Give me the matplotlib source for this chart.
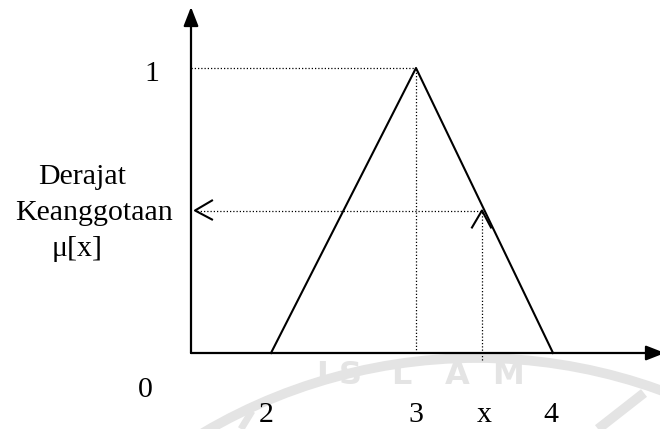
import numpy as np
import matplotlib
matplotlib.use("Agg")
import matplotlib.pyplot as plt
from matplotlib.patches import Arc

# triangular membership function
tri_x = [2.0, 3.0, 3.945]
tri_mu = [0.0, 1.0, 0.0]
x_point = 3.455
mu_point = 0.5
tick_labels = ["2", "3", "x", "4"]
tick_pos = [1.97, 3.0, 3.47, 3.93]
ylabel_lines = ["Derajat", "Keanggotaan", "μ[x]"]

plt.rcParams['font.family'] = ['Liberation Serif', 'DejaVu Serif']

W, H = 660, 429
fig = plt.figure(figsize=(W / 100, H / 100), dpi=100)

# faint watermark, pixel coordinates, behind the chart
wm = fig.add_axes([0, 0, 1, 1], zorder=0)
wm.set_xlim(0, W)
wm.set_ylim(0, H)
wm.axis('off')
wmc = '#e4e4e4'
wm.add_patch(Arc((477, -468), 1078, 1078, theta1=20, theta2=160, color=wmc, lw=7))
wm.plot([598, 644], [0, 36], color=wmc, lw=7, solid_capstyle='butt')
wm.plot([241, 252], [0, 18], color=wmc, lw=5, solid_capstyle='butt')
for ch, cx in zip("ISLAM", [322, 350, 401, 457, 508]):
    wm.text(cx, 53, ch, fontsize=23, color=wmc, ha='center', va='center',
            family='DejaVu Sans', fontweight='bold')

# chart axes: 145 px per x unit, 285 px per membership unit
ax = fig.add_axes([0, 0, 1, 1], zorder=1)
ax.patch.set_alpha(0)
px, py = 145.0, 285.0
x0 = tri_x[0] - 271 / px
ax.set_xlim(x0, x0 + W / px)
ax.set_ylim(-76 / py, 1 + 68 / py)
ax.axis('off')

yaxis_x = x0 + 191 / px
xend = x0 + W / px
ytop = 1 + 61 / py

arrow = dict(arrowstyle="-|>,head_length=1.15,head_width=0.45", color='black',
             lw=1.6, shrinkA=0, shrinkB=0, mutation_scale=10)
ax.annotate("", xy=(yaxis_x, ytop), xytext=(yaxis_x, 0), arrowprops=arrow,
            annotation_clip=False)
ax.annotate("", xy=(xend + 5 / px, 0), xytext=(yaxis_x, 0), arrowprops=arrow,
            annotation_clip=False)

# triangle
ax.plot(tri_x, tri_mu, color='black', lw=1.5)

# dotted guide lines
dot = dict(color='black', lw=0.9, ls=(0, (1, 1.6)))
ax.plot([yaxis_x, tri_x[1]], [1, 1], **dot)
ax.plot([tri_x[1], tri_x[1]], [0, 1], **dot)
ax.plot([yaxis_x + 6 / px, x_point], [mu_point, mu_point], **dot)
ax.plot([x_point, x_point], [-7 / py, mu_point], **dot)

# open arrowheads pointing to the axis and to the curve
ax.plot([yaxis_x + 21 / px, yaxis_x + 4 / px, yaxis_x + 21 / px],
        [mu_point + 10 / py, mu_point, mu_point - 9 / py], color='black', lw=1.5)
ax.plot([x_point - 10 / px, x_point, x_point + 9 / px],
        [mu_point - 17 / py, mu_point, mu_point - 17 / py], color='black', lw=1.5)

# labels
fs = 21.5
ax.text(x0 + 152 / px, 1 - 13 / py, "1", fontsize=fs, ha='center', va='baseline')
ax.text(x0 + 145 / px, -44 / py, "0", fontsize=fs, ha='center', va='baseline')
for p, lab in zip(tick_pos, tick_labels):
    ax.text(p, -69 / py, lab, fontsize=fs, ha='center', va='baseline')

for lab, cx, base in zip(ylabel_lines, [82, 94, 77], [184, 220, 256]):
    ax.text(x0 + cx / px, (353 - base) / py, lab, fontsize=fs, ha='center',
            va='baseline')

fig.savefig("out.png", dpi=100)
